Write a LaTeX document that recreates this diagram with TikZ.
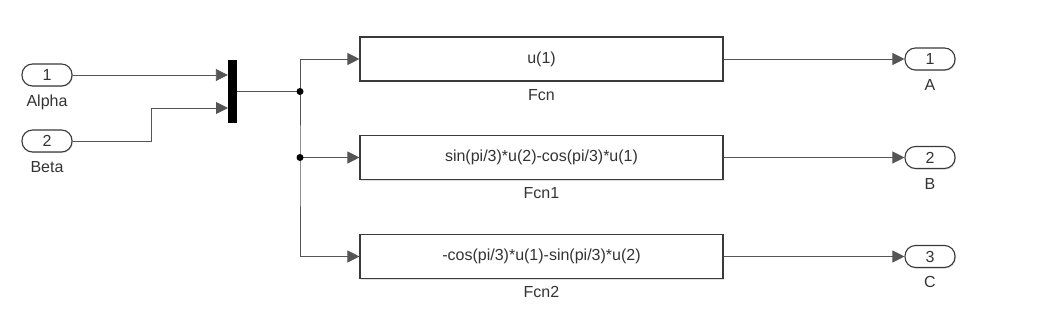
\documentclass[tikz,border=0pt]{standalone}
\usepackage{fontspec}
\setmainfont{Liberation Sans}
\usetikzlibrary{positioning,arrows.meta,shadows}
\definecolor{SLLine}{HTML}{555555}
\definecolor{SLText}{HTML}{333333}
\definecolor{SLEdge}{HTML}{3A3A3A}

\begin{document}
\begin{tikzpicture}[x=1pt,y=-1pt,>={Triangle[length=12pt,width=12pt]},
    every node/.style={font=\fontsize{16}{18}\selectfont,text=SLText}]
  \tikzstyle{port}=[draw=SLEdge,line width=1.1pt,rounded corners=10.5pt,
    minimum width=50pt,minimum height=22pt,inner sep=0pt,fill=white,
    drop shadow={shadow xshift=1pt,shadow yshift=-1pt,opacity=0.25}]
  \tikzstyle{fcnbox}=[draw=SLEdge,line width=1.1pt,fill=white,
    minimum width=363pt,minimum height=44pt,inner sep=0pt,
    drop shadow={shadow xshift=1pt,shadow yshift=-1pt,opacity=0.25}]
  \tikzstyle{wire}=[draw=SLLine,line width=0.9pt]
  \useasboundingbox (0,0) rectangle (1039,321);
  \node[port] (in1) at (47,75) {1};
  \node[port] (in2) at (47,141) {2};
  \node (lalpha) at (47,102) {Alpha};
  \node (lbeta) at (47,167) {Beta};
  \node[fill=black,minimum width=9pt,minimum height=63pt,inner sep=0pt] (mux) at (232.5,91.5) {};
  \node[fcnbox] (fcn) at (541.5,59) {u(1)};
  \node[fcnbox] (fcn1) at (541.5,157.5) {sin(pi/3)*u(2)-cos(pi/3)*u(1)};
  \node[fcnbox] (fcn2) at (541.5,256.5) {-cos(pi/3)*u(1)-sin(pi/3)*u(2)};
  \node (lfcn) at (541.5,95) {Fcn};
  \node (lfcn1) at (541.5,193) {Fcn1};
  \node (lfcn2) at (541.5,292) {Fcn2};
  \node[port] (out1) at (930,59) {1};
  \node[port] (out2) at (930,157.5) {2};
  \node[port] (out3) at (930,256.5) {3};
  \node (la) at (930,85) {A};
  \node (lb) at (930,184) {B};
  \node (lc) at (930,282) {C};
  \coordinate (muxin2) at (228,108);
  \coordinate (j1) at (300,91.5);
  \coordinate (j2) at (300,157.5);
  \draw[wire,->] (in1.east) -- (in1.east -| mux.west);
  \draw[wire,->] (in2.east) -- (151,141) |- (muxin2);
  \draw[wire] (mux.east) -- (j1);
  \draw[wire,->] (j1) |- (fcn.west);
  \draw[wire,->] (j2) -- (fcn1.west);
  \draw[wire,->] (j1) -- (j2) |- (fcn2.west);
  \fill[black] (j1) circle (3.5pt) (j2) circle (3.5pt);
  \draw[wire,->] (fcn.east) -- (out1.west);
  \draw[wire,->] (fcn1.east) -- (out2.west);
  \draw[wire,->] (fcn2.east) -- (out3.west);
\end{tikzpicture}
\end{document}
